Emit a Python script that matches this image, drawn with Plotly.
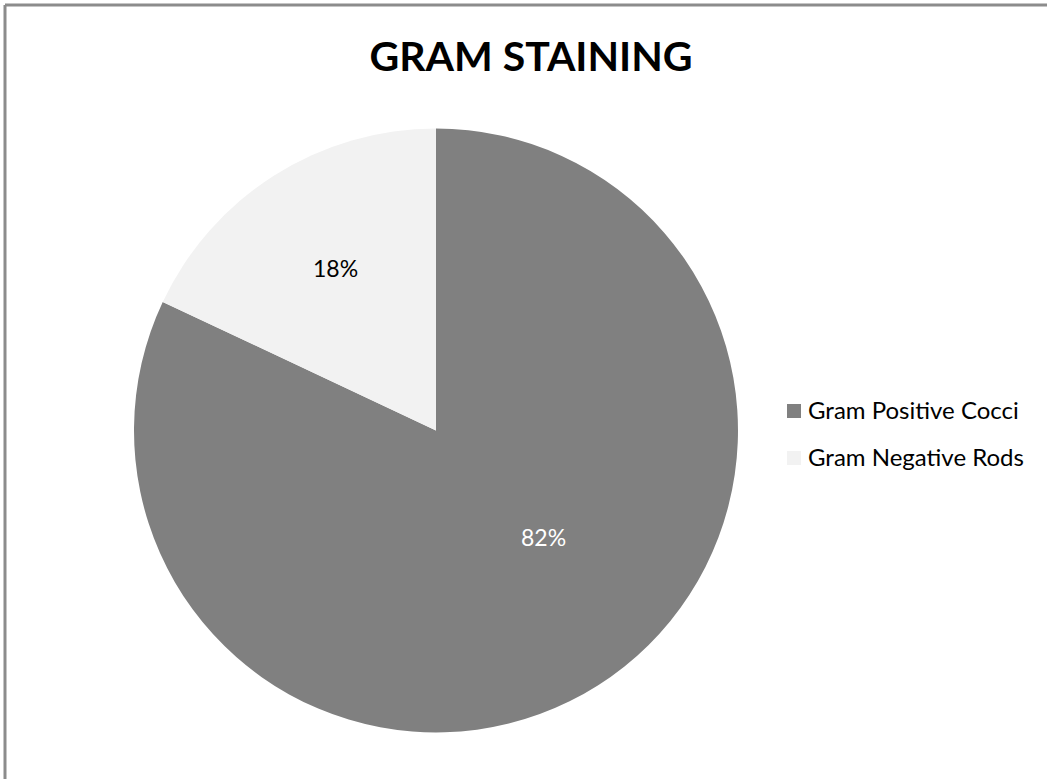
import plotly.graph_objects as go

# Gram staining results
categories = ["Gram Positive Cocci", "Gram Negative Rods"]
values = [82, 18]
colors = ["#808080", "#F2F2F2"]
label_colors = ["#FFFFFF", "#000000"]
title_text = "GRAM STAINING"

W, H = 1047, 779
FONT = "Lato, 'Open Sans', sans-serif"

total = sum(values)
pct_text = [f"{round(v / total * 100)}%" for v in values]

fig = go.Figure(
    go.Pie(
        labels=categories,
        values=values,
        marker=dict(colors=colors, line=dict(width=0)),
        sort=False,
        direction="clockwise",
        rotation=0,
        textinfo="none",
        hoverinfo="label+percent",
        showlegend=False,
        domain=dict(x=[134 / W, 738 / W], y=[1 - 733 / H, 1 - 128 / H]),
    )
)

# percentage labels inside the slices
label_pos = [(543, 537), (335, 268)]
for txt, col, (px, py) in zip(pct_text, label_colors, label_pos):
    fig.add_annotation(
        x=px / W, y=1 - py / H, xref="paper", yref="paper",
        text=txt, showarrow=False,
        font=dict(family=FONT, size=23, color=col),
        xanchor="center", yanchor="middle",
    )

# legend: swatch + label per category
legend_rows = [411, 458]
for cat, col, ly in zip(categories, colors, legend_rows):
    fig.add_shape(
        type="rect", xref="paper", yref="paper",
        x0=787 / W, x1=801 / W, y0=1 - (ly + 7) / H, y1=1 - (ly - 7) / H,
        fillcolor=col, line=dict(width=0),
    )
    fig.add_annotation(
        x=806 / W, y=1 - (ly - 2) / H, xref="paper", yref="paper",
        text=cat, showarrow=False,
        font=dict(family=FONT, size=24, color="#000000"),
        xanchor="left", yanchor="middle",
    )

# chart-area frame (top and left edges)
frame = "#8C8C8C"
fig.add_shape(type="line", xref="paper", yref="paper",
              x0=5 / W, x1=1, y0=1 - 5 / H, y1=1 - 5 / H,
              line=dict(color=frame, width=3))
fig.add_shape(type="line", xref="paper", yref="paper",
              x0=5 / W, x1=5 / W, y0=0, y1=1 - 5 / H,
              line=dict(color=frame, width=3))

fig.update_layout(
    width=W, height=H,
    margin=dict(l=0, r=0, t=0, b=0),
    paper_bgcolor="#FFFFFF",
    plot_bgcolor="#FFFFFF",
    title=dict(
        text=f"<b>{title_text}</b>",
        x=531 / W, xanchor="center",
        y=1 - 57 / H, yanchor="middle",
        font=dict(family=FONT, size=41, color="#000000"),
    ),
)

fig.write_html("out.html")
